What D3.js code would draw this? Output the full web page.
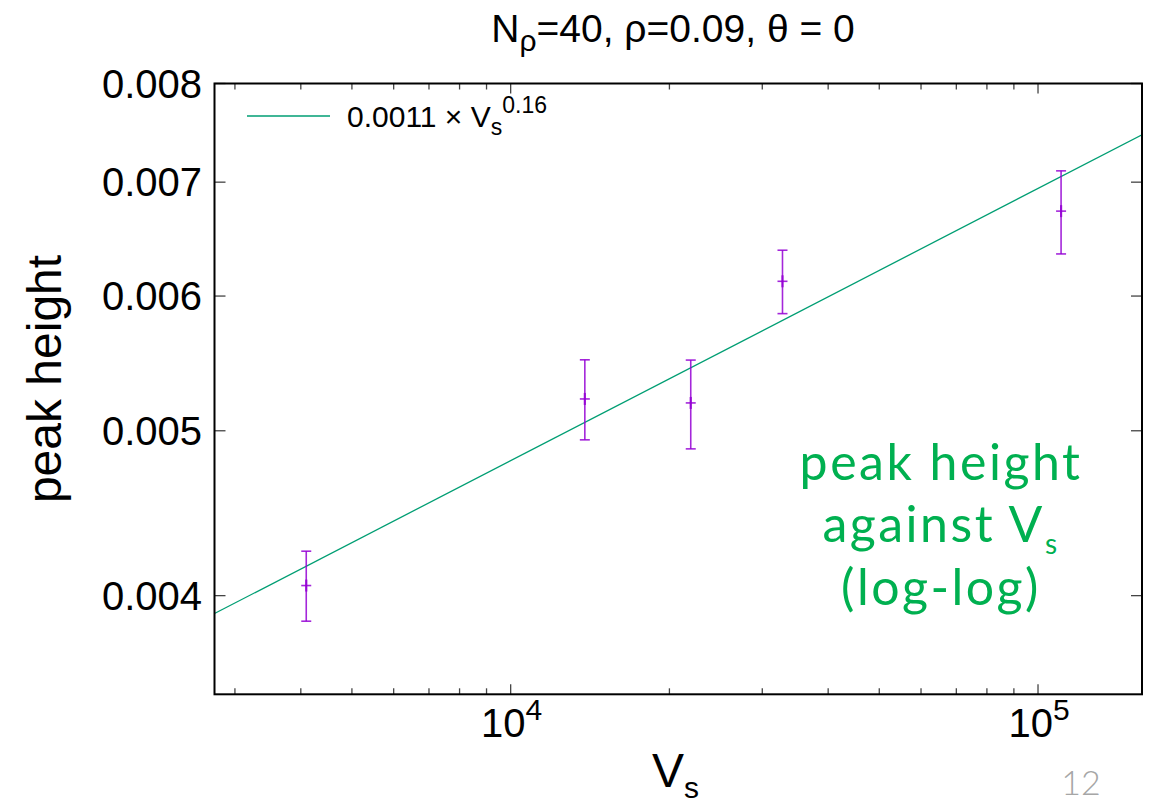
<!DOCTYPE html>
<html>
<head>
<meta charset="utf-8">
<script src="https://cdn.jsdelivr.net/npm/d3@7"></script>
<style>
  html, body { margin: 0; padding: 0; background: #fff; }
  svg { display: block; }
  text { font-family: "Liberation Sans", Arial, Helvetica, sans-serif; }
</style>
</head>
<body>
<svg id="chart" width="1156" height="806"></svg>
<script>
// ---- data ----
const volumes = [4096, 13824, 21952, 32768, 110592];
const peakHeight = [0.004055, 0.005220, 0.005192, 0.006121, 0.006731];
const errLow = [0.003864, 0.004939, 0.004879, 0.005859, 0.006352];
const errHigh = [0.004248, 0.005504, 0.005502, 0.006384, 0.007108];
const fitCoef = 0.0011;
const fitExp = 0.16;
const xDomain = [2744, 157464];
const yDomain = [0.0035, 0.008];
const xMajorTicks = [1e4, 1e5];
const xMajorExp = ["4", "5"];
const xMinorTicks = [3000, 4000, 5000, 6000, 7000, 8000, 9000, 20000, 30000, 40000, 50000, 60000, 70000, 80000, 90000];
const yTicks = [0.004, 0.005, 0.006, 0.007, 0.008];
const yTickLabels = ["0.004", "0.005", "0.006", "0.007", "0.008"];
const annotationLines = ["peak height", "against V", "(log-log)"];

// ---- layout ----
const L = 214.5, R = 1142, T = 83.5, B = 694.3;
const svg = d3.select("#chart");
const x = d3.scaleLog().domain(xDomain).range([L, R]);
const y = d3.scaleLog().domain(yDomain).range([B, T]);

const purple = "#9400d3";
const teal = "#009e73";

svg.append("defs").append("clipPath").attr("id", "clip")
  .append("rect").attr("x", L).attr("y", T).attr("width", R - L).attr("height", B - T);

// ticks (inward, mirrored)
const tickG = svg.append("g").attr("stroke", "#444").attr("stroke-width", 1.3);
xMajorTicks.forEach(v => {
  tickG.append("line").attr("x1", x(v)).attr("x2", x(v)).attr("y1", B).attr("y2", B - 10);
  tickG.append("line").attr("x1", x(v)).attr("x2", x(v)).attr("y1", T).attr("y2", T + 10);
});
xMinorTicks.forEach(v => {
  tickG.append("line").attr("x1", x(v)).attr("x2", x(v)).attr("y1", B).attr("y2", B - 6);
  tickG.append("line").attr("x1", x(v)).attr("x2", x(v)).attr("y1", T).attr("y2", T + 6);
});
yTicks.forEach(v => {
  tickG.append("line").attr("x1", L).attr("x2", L + 11).attr("y1", y(v)).attr("y2", y(v));
  tickG.append("line").attr("x1", R).attr("x2", R - 11).attr("y1", y(v)).attr("y2", y(v));
});

// fit line
const fitData = xDomain.map(v => [v, fitCoef * Math.pow(v, fitExp)]);
svg.append("path")
  .attr("clip-path", "url(#clip)")
  .attr("d", d3.line().x(d => x(d[0])).y(d => y(d[1]))(fitData))
  .attr("fill", "none").attr("stroke", teal).attr("stroke-width", 1.3);

// error bars
const eb = svg.append("g").attr("stroke", purple).attr("stroke-width", 1.6).attr("stroke-opacity", 0.85);
volumes.forEach((v, i) => {
  const cx = x(v);
  eb.append("line").attr("x1", cx).attr("x2", cx).attr("y1", y(errLow[i])).attr("y2", y(errHigh[i]));
  eb.append("line").attr("x1", cx - 5).attr("x2", cx + 5).attr("y1", y(errLow[i])).attr("y2", y(errLow[i]));
  eb.append("line").attr("x1", cx - 5).attr("x2", cx + 5).attr("y1", y(errHigh[i])).attr("y2", y(errHigh[i]));
  eb.append("line").attr("x1", cx - 5).attr("x2", cx + 5).attr("y1", y(peakHeight[i])).attr("y2", y(peakHeight[i]));
  eb.append("line").attr("x1", cx).attr("x2", cx).attr("y1", y(peakHeight[i]) - 6).attr("y2", y(peakHeight[i]) + 6)
    .attr("stroke-width", 2.2);
});

// border
svg.append("rect").attr("x", L).attr("y", T).attr("width", R - L).attr("height", B - T)
  .attr("fill", "none").attr("stroke", "#000").attr("stroke-width", 2);

// y tick labels
yTicks.forEach((v, i) => {
  svg.append("text").attr("x", 202).attr("y", y(v) + 14)
    .attr("text-anchor", "end").attr("font-size", 40).attr("fill", "#000")
    .text(yTickLabels[i]);
});

// x tick labels 10^n
xMajorTicks.forEach((v, i) => {
  const t = svg.append("text").attr("x", x(v) + 1).attr("y", 737)
    .attr("text-anchor", "middle").attr("font-size", 40).attr("fill", "#000");
  t.append("tspan").text("10");
  t.append("tspan").attr("font-size", 30).attr("dy", -17).text(xMajorExp[i]);
});

// title
const title = svg.append("text").attr("x", 673).attr("y", 42)
  .attr("text-anchor", "middle").attr("font-size", 39).attr("fill", "#000");
title.append("tspan").text("N");
title.append("tspan").attr("font-size", 30).attr("dy", 9).text("ρ");
title.append("tspan").attr("dy", -9).text("=40, ρ=0.09, θ = 0");

// axis labels
svg.append("text").attr("transform", "translate(61,379) rotate(-90)")
  .attr("text-anchor", "middle").attr("font-size", 48).attr("fill", "#000")
  .text("peak height");
const xl = svg.append("text").attr("x", 652).attr("y", 787)
  .attr("font-size", 48).attr("fill", "#000");
xl.append("tspan").text("V");
xl.append("tspan").attr("font-size", 30).attr("dy", 11).text("s");

// legend
svg.append("line").attr("x1", 247).attr("x2", 330).attr("y1", 116).attr("y2", 116)
  .attr("stroke", teal).attr("stroke-width", 1.3);
const lg = svg.append("text").attr("x", 347).attr("y", 126.7).attr("font-size", 30).attr("fill", "#000");
lg.append("tspan").text("0.0011 × V");
lg.append("tspan").attr("font-size", 23).attr("dy", 8.3).text("s");
lg.append("tspan").attr("font-size", 23).attr("dy", -22.3).text("0.16");

// annotation
const annFont = 'Lato, "Noto Sans", sans-serif';
const green = "#00b050";
const annBase = [480, 542, 605];
annotationLines.forEach((s, i) => {
  const t = svg.append("text").attr("x", 941).attr("y", annBase[i]).attr("text-anchor", "middle")
    .attr("font-size", 50).attr("letter-spacing", 2.5).attr("fill", green)
    .style("font-family", annFont);
  t.append("tspan").text(s);
  if (i === 1) t.append("tspan").attr("font-size", 28).attr("dy", 12).text("s");
});

// page number
svg.append("text").attr("x", 1081).attr("y", 795).attr("text-anchor", "middle")
  .attr("font-size", 34).attr("font-weight", 300).attr("fill", "#a6a6a6")
  .style("font-family", annFont).text("12");
</script>
</body>
</html>
